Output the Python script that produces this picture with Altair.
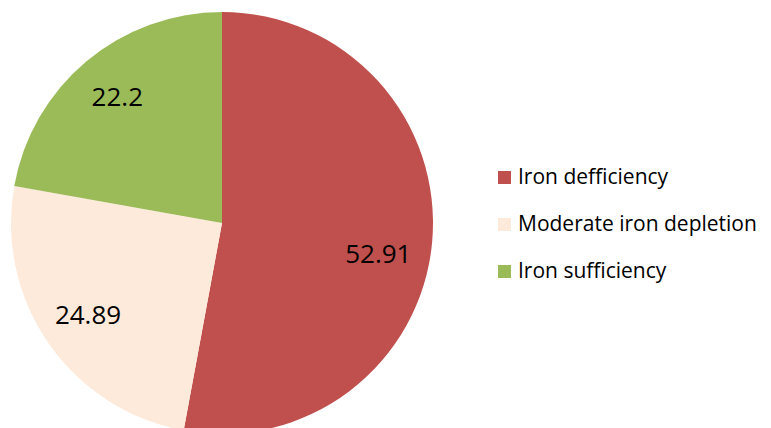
import altair as alt
import pandas as pd
import math

categories = ["Iron defficiency", "Moderate iron depletion", "Iron sufficiency"]
values = [52.91, 24.89, 22.2]
labels = ["52.91", "24.89", "22.2"]
colors = ["#C0504D", "#FDEADA", "#9BBB59"]

df = pd.DataFrame({
    "category": categories,
    "value": values,
    "label": labels,
    "order": list(range(len(categories))),
})

FONT = "Open Sans"
TOTAL = sum(values)

pie = alt.Chart(df).mark_arc(outerRadius=211).encode(
    theta=alt.Theta("value:Q", stack=True),
    order=alt.Order("order:Q"),
    x=alt.value(214),
    y=alt.value(215),
    color=alt.Color(
        "category:N",
        scale=alt.Scale(domain=categories, range=colors),
        sort=categories,
        legend=alt.Legend(
            title=None,
            orient="none",
            legendX=486,
            legendY=159,
            symbolType="square",
            symbolSize=169,
            symbolStrokeWidth=0,
            labelFont=FONT,
            labelFontSize=21,
            labelColor="#000000",
            labelOffset=3,
            rowPadding=25,
            labelLimit=400,
        ),
    ),
)

text_base = (
    alt.Chart(df)
    .transform_window(cum="sum(value)", sort=[alt.SortField("order")])
    .transform_calculate(mid="datum.cum - datum.value / 2")
    .encode(
        theta=alt.Theta(
            "mid:Q", scale=alt.Scale(domain=[0, TOTAL], range=[0, 2 * math.pi])
        ),
        x=alt.value(214),
        y=alt.value(215),
        text="label:N",
    )
)

text_main = text_base.transform_filter(
    alt.datum.order != 0
).mark_text(radius=163, font=FONT, fontSize=26, color="#000000")

text_big = text_base.transform_filter(
    alt.datum.order == 0
).mark_text(radius=163, font=FONT, fontSize=26, color="#000000", dx=-6, dy=17)

chart = (
    alt.layer(pie, text_main, text_big)
    .resolve_scale(theta="independent")
    .properties(
        width=755,
        height=420,
        padding=0,
        autosize=alt.AutoSizeParams(type="none"),
    )
    .configure_view(stroke=None)
)

chart.save("out.html", embed_options={"renderer": "svg", "actions": False})
